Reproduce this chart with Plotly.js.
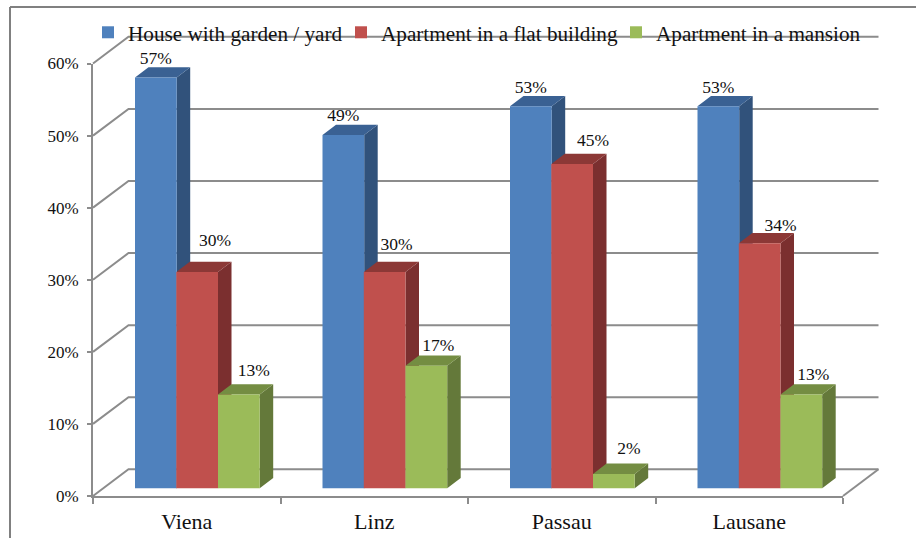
<!DOCTYPE html>
<html>
<head>
<meta charset="utf-8">
<script src="https://cdn.plot.ly/plotly-3.0.1.min.js"></script>
<style>html,body{margin:0;padding:0;background:#fff;overflow:hidden}</style>
</head>
<body>
<div id="chart" style="width:916px;height:538px"></div>
<script>
// Data
const cities = ["Viena", "Linz", "Passau", "Lausane"];
const seriesNames = ["House with garden / yard", "Apartment in a flat building", "Apartment in a mansion"];
const house = [57, 49, 53, 53];
const flat = [30, 30, 45, 34];
const mansion = [13, 17, 2, 13];
const percentTicks = [0, 10, 20, 30, 40, 50, 60];

// Layout constants (pixels on the 916x538 page)
const W = 916, H = 538;
const X0 = 93, X1 = 843, Y0 = 496, Y60 = 63.5;
const pxPerCat = (X1 - X0) / cities.length, pxPerPct = (Y0 - Y60) / 60;
const dx = p => p / pxPerCat, dy = p => p / pxPerPct;
const barW = dx(41.7), barLift = dy(7.7), barDepthX = dx(13.5), barDepthY = dy(10.3);
const wallX = dx(35.5), wallY = dy(26.7);
const barOffset = [dx(135 - 186.75), dx(176.3 - 186.75), dx(218 - 186.75)];
const labelDx = [[0, 0, 0, 0], [18, 12, 21, 21], [15, 12, 15, 12]];
const labelDy = [[18, 18, 18, 18], [30, 26, 22, 17], [23, 19, 24, 19]];
const legendX = [88, 341, 616];
const front = ["#4f81bd", "#c0504d", "#9bbb59"];
const side = ["#31527b", "#7b2f2f", "#64793a"];
const topFace = ["#3a6193", "#8c3836", "#748d42"];
const gridColor = "#8c8c8c", textColor = "#111111", fontFam = '"Liberation Serif","Times New Roman",serif';
const allValues = [house, flat, mansion];

const traces = [];

// Back wall gridlines, floor side edges (page-wide axes x/y, same units as the visible axes)
const gx = [], gy = [];
percentTicks.forEach(t => {
  gx.push(-0.5, -0.5 + wallX, 3.5 + wallX, null);
  gy.push(t, t + wallY, t + wallY, null);
});
gx.push(3.5, 3.5 + wallX, null);
gy.push(0, wallY, null);
traces.push({x: gx, y: gy, type: "scatter", mode: "lines", line: {color: gridColor, width: 2},
  showlegend: false, hoverinfo: "skip", xaxis: "x", yaxis: "y"});

// Side and top faces of each bar
allValues.forEach((vals, s) => {
  const sx = [], sy = [], tx = [], ty = [];
  vals.forEach((v, i) => {
    const l = i + barOffset[s], r = l + barW, b = barLift, t = barLift + v;
    sx.push(r, r + barDepthX, r + barDepthX, r, r, null);
    sy.push(b, b + barDepthY, t + barDepthY, t, b, null);
    tx.push(l, r, r + barDepthX, l + barDepthX, l, null);
    ty.push(t, t, t + barDepthY, t + barDepthY, t, null);
  });
  [[sx, sy, side[s]], [tx, ty, topFace[s]]].forEach(f => traces.push({
    x: f[0], y: f[1], type: "scatter", mode: "lines", fill: "toself", fillcolor: f[2],
    line: {width: 0, color: f[2]}, showlegend: false, hoverinfo: "skip", xaxis: "x", yaxis: "y"
  }));
});

// Value labels
allValues.forEach((vals, s) => {
  traces.push({
    x: vals.map((v, i) => i + barOffset[s] + barW / 2 + dx(labelDx[s][i])),
    y: vals.map((v, i) => v + barLift + dy(labelDy[s][i])),
    text: vals.map(v => v + "%"),
    type: "scatter", mode: "text", textposition: "middle center",
    textfont: {family: fontFam, size: 17.5, color: textColor},
    showlegend: false, hoverinfo: "skip", xaxis: "x", yaxis: "y"
  });
});

// Front faces: real bars on the visible axes
allValues.forEach((vals, s) => {
  traces.push({
    x: cities, y: vals, base: vals.map(() => barLift), name: seriesNames[s],
    type: "bar", width: barW, offset: barOffset[s],
    marker: {color: front[s], line: {width: 0}},
    xaxis: "x2", yaxis: "y2", hoverinfo: "skip",
    legend: s === 0 ? "legend" : "legend" + (s + 1)
  });
});

const legendAt = px => ({
  orientation: "h", x: px / W, xanchor: "left", y: 1 - 12 / H, yanchor: "top",
  bgcolor: "rgba(0,0,0,0)", font: {family: fontFam, size: 21.2, color: textColor},
  itemclick: false, itemdoubleclick: false
});

const layout = {
  width: W, height: H,
  margin: {l: 0, r: 0, t: 0, b: 0, autoexpand: false},
  paper_bgcolor: "#ffffff", plot_bgcolor: "rgba(0,0,0,0)",
  barmode: "overlay",
  showlegend: true,
  legend: legendAt(legendX[0]),
  legend2: legendAt(legendX[1]),
  legend3: legendAt(legendX[2]),
  xaxis: {domain: [0, 1], range: [-0.5 - dx(X0), -0.5 + dx(W - X0)], visible: false, fixedrange: true},
  yaxis: {domain: [0, 1], range: [-dy(H - Y0), dy(Y0)], visible: false, fixedrange: true},
  xaxis2: {
    domain: [X0 / W, X1 / W], anchor: "y2", type: "category", categoryorder: "array", categoryarray: cities,
    range: [-0.5, 3.5], tickson: "boundaries", ticks: "outside", ticklen: 6, tickwidth: 2, tickcolor: gridColor,
    showline: true, linecolor: gridColor, linewidth: 2, showgrid: false, zeroline: false,
    tickfont: {family: fontFam, size: 22, color: textColor}, ticklabelstandoff: 5, fixedrange: true
  },
  yaxis2: {
    domain: [1 - Y0 / H, 1 - Y60 / H], anchor: "x2", range: [0, 60], tickvals: percentTicks,
    ticktext: percentTicks.map(t => t + "%"), ticks: "outside", ticklen: 4, tickwidth: 2, tickcolor: gridColor,
    showline: true, linecolor: gridColor, linewidth: 2, showgrid: false, zeroline: false,
    tickfont: {family: fontFam, size: 17, color: textColor}, ticklabelstandoff: 5, fixedrange: true
  },
  shapes: [
    {type: "line", xref: "paper", yref: "paper", x0: 10 / W, x1: 10 / W, y0: 0, y1: 1 - 7 / H, line: {color: "#808080", width: 2}},
    {type: "line", xref: "paper", yref: "paper", x0: 10 / W, x1: 1, y0: 1 - 7 / H, y1: 1 - 7 / H, line: {color: "#808080", width: 2}}
  ]
};

Plotly.newPlot("chart", traces, layout, {displayModeBar: false, staticPlot: true});
</script>
</body>
</html>
